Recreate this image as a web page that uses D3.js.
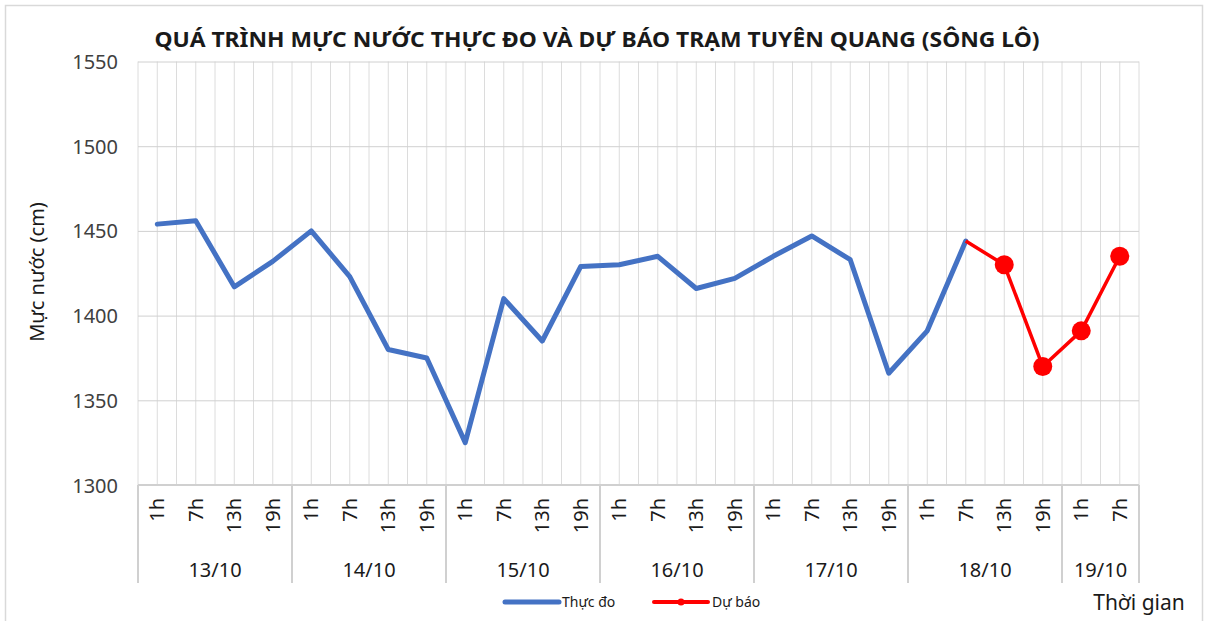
<!DOCTYPE html>
<html>
<head>
<meta charset="utf-8">
<script src="https://cdn.jsdelivr.net/npm/d3@7"></script>
<style>
  body { margin: 0; background: #fff; }
  text { font-family: 'Noto Sans', 'Open Sans', sans-serif; fill: #404040; }
  .title { font-weight: bold; fill: #1a1a1a; }
  .grid line { stroke: #d9d9d9; stroke-width: 1; }
</style>
</head>
<body>
<div id="chart"></div>
<script>
const width = 1209, height = 621;
const margin = { top: 61.5, left: 138, right: 70, bottom: 136 };
const graph_width = width - margin.left - margin.right;
const graph_height = height - margin.top - margin.bottom;

// data
const days = ['13/10', '14/10', '15/10', '16/10', '17/10', '18/10', '19/10'];
const dayHours = [
    ['1h', '7h', '13h', '19h'],
    ['1h', '7h', '13h', '19h'],
    ['1h', '7h', '13h', '19h'],
    ['1h', '7h', '13h', '19h'],
    ['1h', '7h', '13h', '19h'],
    ['1h', '7h', '13h', '19h'],
    ['1h', '7h']
];
const measured = [1454, 1456, 1417, 1432, 1450, 1423, 1380, 1375, 1325, 1410, 1385, 1429,
                  1430, 1435, 1416, 1422, 1435, 1447, 1433, 1366, 1391, 1444];
const forecastStart = 21;
const forecast = [1444, 1430, 1370, 1391, 1435];
const yTicks = [1300, 1350, 1400, 1450, 1500, 1550];

const categories = [];
days.forEach((d, i) => dayHours[i].forEach(h => categories.push({ key: d + ' ' + h, day: d, hour: h })));
const keys = categories.map(c => c.key);

const svg = d3.select('#chart').append('svg')
    .attr('width', width)
    .attr('height', height);

// outer chart border
svg.append('rect')
    .attr('x', 5.5).attr('y', 5.5)
    .attr('width', 1197).attr('height', 640)
    .attr('fill', 'none')
    .attr('stroke', '#d9d9d9')
    .attr('stroke-width', 1.5);

const g = svg.append('g').attr('transform', 'translate(' + margin.left + ',' + margin.top + ')');

const x = d3.scaleBand().domain(keys).range([0, graph_width]).padding(0);
const y = d3.scaleLinear().domain([1300, 1550]).range([graph_height, 0]);
const cx = k => x(k) + x.bandwidth() / 2;

// vertical gridlines (category edges + centers)
const vx = [];
keys.forEach(k => { vx.push(x(k)); vx.push(cx(k)); });
vx.push(graph_width);
g.append('g').attr('class', 'grid')
    .selectAll('line').data(vx).enter().append('line')
    .attr('x1', d => d).attr('x2', d => d)
    .attr('y1', 0).attr('y2', graph_height)
    .style('stroke', '#dcdcdc');

// y axis with horizontal gridlines
const yAxis = g.append('g').attr('class', 'grid')
    .call(d3.axisLeft(y).tickValues(yTicks).tickFormat(d3.format('d')).tickSize(-graph_width).tickPadding(20));
yAxis.select('.domain').remove();
yAxis.selectAll('line').style('stroke', '#d0d0d0');
yAxis.selectAll('text')
    .style('font-size', '20px')
    .style('fill', '#404040')
    .attr('dy', '0.35em');

// x axis baseline
g.append('line')
    .attr('x1', 0).attr('x2', graph_width)
    .attr('y1', graph_height).attr('y2', graph_height)
    .attr('stroke', '#d0d0d0').attr('stroke-width', 2);

// hour labels (rotated)
g.append('g').selectAll('text').data(categories).enter().append('text')
    .attr('transform', d => 'translate(' + (cx(d.key) + 7) + ',' + (graph_height + 13) + ') rotate(-90)')
    .attr('text-anchor', 'end')
    .style('font-size', '20px')
    .style('fill', '#1a1a1a')
    .text(d => d.hour);

// day groups
let start = 0;
const groups = days.map((d, i) => {
    const grp = { day: d, first: keys[start], last: keys[start + dayHours[i].length - 1] };
    start += dayHours[i].length;
    return grp;
});
const dividers = groups.map(gr => x(gr.first)).concat([graph_width]);
g.append('g').selectAll('line').data(dividers).enter().append('line')
    .attr('x1', d => d).attr('x2', d => d)
    .attr('y1', graph_height).attr('y2', graph_height + 98)
    .attr('stroke', '#d0d0d0').attr('stroke-width', 2);
g.append('g').selectAll('text').data(groups).enter().append('text')
    .attr('x', d => (x(d.first) + x(d.last) + x.bandwidth()) / 2)
    .attr('y', graph_height + 92)
    .attr('text-anchor', 'middle')
    .style('font-size', '20px')
    .style('fill', '#1a1a1a')
    .text(d => d.day);

// lines
const line = d3.line().x(d => cx(d.k)).y(d => y(d.v));
const measuredPts = measured.map((v, i) => ({ k: keys[i], v: v }));
const forecastPts = forecast.map((v, i) => ({ k: keys[forecastStart + i], v: v }));

g.append('path').datum(measuredPts)
    .attr('d', line)
    .attr('fill', 'none')
    .attr('stroke', '#4472c4')
    .attr('stroke-width', 5)
    .attr('stroke-linejoin', 'round')
    .attr('stroke-linecap', 'round');

g.append('path').datum(forecastPts)
    .attr('d', line)
    .attr('fill', 'none')
    .attr('stroke', '#ff0000')
    .attr('stroke-width', 3.5)
    .attr('stroke-linejoin', 'round');

g.append('g').selectAll('circle').data(forecastPts.slice(1)).enter().append('circle')
    .attr('cx', d => cx(d.k))
    .attr('cy', d => y(d.v))
    .attr('r', 9.5)
    .attr('fill', '#ff0000');

// title
svg.append('text')
    .attr('class', 'title')
    .attr('x', 597)
    .attr('y', 47)
    .attr('text-anchor', 'middle')
    .attr('textLength', 885)
    .attr('lengthAdjust', 'spacingAndGlyphs')
    .style('font-size', '21px')
    .text('QUÁ TRÌNH MỰC NƯỚC THỰC ĐO VÀ DỰ BÁO TRẠM TUYÊN QUANG (SÔNG LÔ)');

// y axis title
svg.append('text')
    .attr('transform', 'translate(44,272) rotate(-90)')
    .attr('text-anchor', 'middle')
    .style('font-size', '20px')
    .style('fill', '#1a1a1a')
    .text('Mực nước (cm)');

// x axis title
svg.append('text')
    .attr('x', 1139)
    .attr('y', 610)
    .attr('text-anchor', 'middle')
    .style('font-size', '21px')
    .style('fill', '#1a1a1a')
    .text('Thời gian');

// legend
const legend = svg.append('g').attr('transform', 'translate(505,602)');
legend.append('line')
    .attr('x1', 0).attr('x2', 54).attr('y1', 0).attr('y2', 0)
    .attr('stroke', '#4472c4').attr('stroke-width', 5).attr('stroke-linecap', 'round');
legend.append('text')
    .attr('x', 57).attr('y', 5)
    .style('font-size', '14px')
    .style('fill', '#1a1a1a')
    .text('Thực  đo');
legend.append('line')
    .attr('x1', 149).attr('x2', 203).attr('y1', 0).attr('y2', 0)
    .attr('stroke', '#ff0000').attr('stroke-width', 4).attr('stroke-linecap', 'round');
legend.append('circle')
    .attr('cx', 176).attr('cy', 0).attr('r', 3.5).attr('fill', '#ff0000');
legend.append('text')
    .attr('x', 207).attr('y', 5)
    .style('font-size', '14px')
    .style('fill', '#1a1a1a')
    .text('Dự báo');
</script>
</body>
</html>
